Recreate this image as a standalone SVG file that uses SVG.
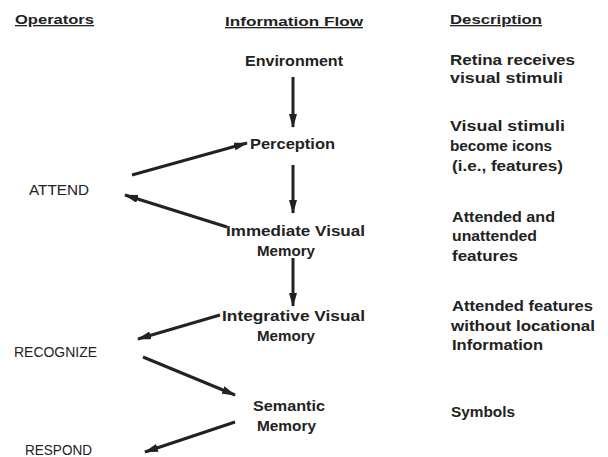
<svg xmlns="http://www.w3.org/2000/svg" width="608" height="457" viewBox="0 0 608 457">
<defs>
<marker id="ah" markerUnits="userSpaceOnUse" markerWidth="14" markerHeight="8" refX="13" refY="4" orient="auto">
<path d="M0,0 L14,4 L0,8 Z" fill="#222"/>
</marker>
<style>
text{font-family:"Liberation Sans",Arial,sans-serif;fill:#222;font-size:15px}
.h{font-weight:bold;font-size:13px;text-decoration:underline}
.f{font-weight:bold}
.d{font-weight:bold}
.o{font-weight:normal}
.c line{stroke:#222;stroke-width:3;marker-end:url(#ah)}
</style>
</defs>
<rect width="608" height="457" fill="#fff"/>
<g id="headers">
<text class="h" x="15" y="24" textLength="79" lengthAdjust="spacingAndGlyphs">Operators</text>
<text class="h" x="225" y="26" textLength="138" lengthAdjust="spacingAndGlyphs">Information Flow</text>
<text class="h" x="450" y="24" textLength="92" lengthAdjust="spacingAndGlyphs">Description</text>
</g>
<g id="environment"><text class="f" x="245" y="66" textLength="98" lengthAdjust="spacingAndGlyphs">Environment</text></g>
<g id="perception"><text class="f" x="250" y="149" textLength="85" lengthAdjust="spacingAndGlyphs">Perception</text></g>
<g id="immediate">
<text class="f" x="226" y="236" textLength="139" lengthAdjust="spacingAndGlyphs">Immediate Visual</text>
<text class="f" x="257" y="256" textLength="58" lengthAdjust="spacingAndGlyphs">Memory</text>
</g>
<g id="integrative">
<text class="f" x="222" y="321" textLength="143" lengthAdjust="spacingAndGlyphs">Integrative Visual</text>
<text class="f" x="257" y="341" textLength="58" lengthAdjust="spacingAndGlyphs">Memory</text>
</g>
<g id="semantic">
<text class="f" x="253" y="411" textLength="72" lengthAdjust="spacingAndGlyphs">Semantic</text>
<text class="f" x="257" y="431" textLength="59" lengthAdjust="spacingAndGlyphs">Memory</text>
</g>
<g id="attend"><text class="o" x="29" y="195" textLength="60" lengthAdjust="spacingAndGlyphs">ATTEND</text></g>
<g id="recognize"><text class="o" x="14" y="357" textLength="83" lengthAdjust="spacingAndGlyphs">RECOGNIZE</text></g>
<g id="respond"><text class="o" x="25" y="455" textLength="67" lengthAdjust="spacingAndGlyphs">RESPOND</text></g>
<g id="desc1">
<text class="d" x="450" y="65" textLength="125" lengthAdjust="spacingAndGlyphs">Retina receives</text>
<text class="d" x="450" y="83" textLength="113" lengthAdjust="spacingAndGlyphs">visual stimuli</text>
</g>
<g id="desc2">
<text class="d" x="450" y="131" textLength="115" lengthAdjust="spacingAndGlyphs">Visual stimuli</text>
<text class="d" x="450" y="151" textLength="102" lengthAdjust="spacingAndGlyphs">become icons</text>
<text class="d" x="452" y="171" textLength="111" lengthAdjust="spacingAndGlyphs">(i.e., features)</text>
</g>
<g id="desc3">
<text class="d" x="452" y="222" textLength="103" lengthAdjust="spacingAndGlyphs">Attended and</text>
<text class="d" x="452" y="241" textLength="85" lengthAdjust="spacingAndGlyphs">unattended</text>
<text class="d" x="452" y="261" textLength="66" lengthAdjust="spacingAndGlyphs">features</text>
</g>
<g id="desc4">
<text class="d" x="452" y="311" textLength="141" lengthAdjust="spacingAndGlyphs">Attended features</text>
<text class="d" x="451" y="331" textLength="144" lengthAdjust="spacingAndGlyphs">without locational</text>
<text class="d" x="452" y="350" textLength="91" lengthAdjust="spacingAndGlyphs">Information</text>
</g>
<g id="desc5"><text class="d" x="451" y="417" textLength="64" lengthAdjust="spacingAndGlyphs">Symbols</text></g>
<g id="connectors" class="c">
<line x1="293" y1="77" x2="293" y2="127"/>
<line x1="293" y1="165" x2="293" y2="213"/>
<line x1="293" y1="258" x2="293" y2="306"/>
<line x1="132" y1="175" x2="247" y2="143"/>
<line x1="227" y1="227" x2="125" y2="195"/>
<line x1="220" y1="315" x2="138" y2="339"/>
<line x1="143" y1="357" x2="235" y2="395"/>
<line x1="235" y1="422" x2="145" y2="452"/>
</g>
</svg>
